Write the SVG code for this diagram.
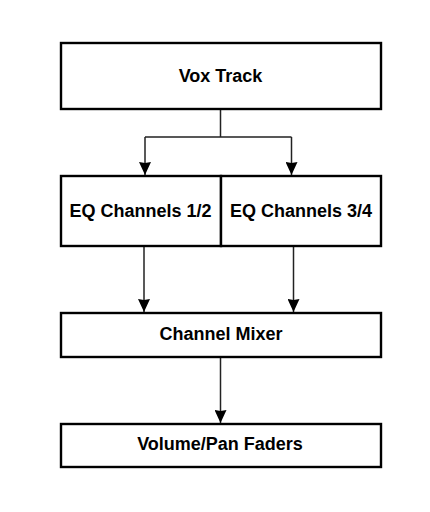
<svg xmlns="http://www.w3.org/2000/svg" width="430" height="512" viewBox="0 0 430 512">
<style>
.box{fill:#fff;stroke:#000;stroke-width:2.4}
.lbl{font-family:"Liberation Sans",Arial,sans-serif;font-weight:bold;font-size:18px;fill:#000;text-anchor:middle}
.conn{fill:none;stroke:#222;stroke-width:1.5}
</style>
<defs>
<marker id="arr" markerUnits="userSpaceOnUse" markerWidth="13" markerHeight="12" refX="13" refY="6" orient="auto" viewBox="0 0 13 12">
<path d="M0,0 L13,6 L0,12 L1,6 Z" fill="#000"/>
</marker>
</defs>
<rect width="430" height="512" fill="#fff"/>
<g id="connectors">
<path class="conn" d="M220.5 109 V137 M145 137 H291.5"/>
<path class="conn" d="M145 137 V175" marker-end="url(#arr)"/>
<path class="conn" d="M291.5 137 V175" marker-end="url(#arr)"/>
<path class="conn" d="M144 247 V312" marker-end="url(#arr)"/>
<path class="conn" d="M293.5 247 V312" marker-end="url(#arr)"/>
<path class="conn" d="M220.5 357 V423" marker-end="url(#arr)"/>
</g>
<g id="vox">
<rect class="box" x="61" y="43" width="320" height="66"/>
<text class="lbl" x="220.5" y="82">Vox Track</text>
</g>
<g id="eq12">
<rect class="box" x="61" y="176" width="160" height="70"/>
<text class="lbl" x="140.5" y="217">EQ Channels 1/2</text>
</g>
<g id="eq34">
<rect class="box" x="221" y="176" width="160" height="70"/>
<text class="lbl" x="301" y="217">EQ Channels 3/4</text>
</g>
<g id="mixer">
<rect class="box" x="61" y="313" width="320" height="44"/>
<text class="lbl" x="221" y="340">Channel Mixer</text>
</g>
<g id="faders">
<rect class="box" x="61" y="424" width="320" height="43"/>
<text class="lbl" x="220" y="450">Volume/Pan Faders</text>
</g>
</svg>
